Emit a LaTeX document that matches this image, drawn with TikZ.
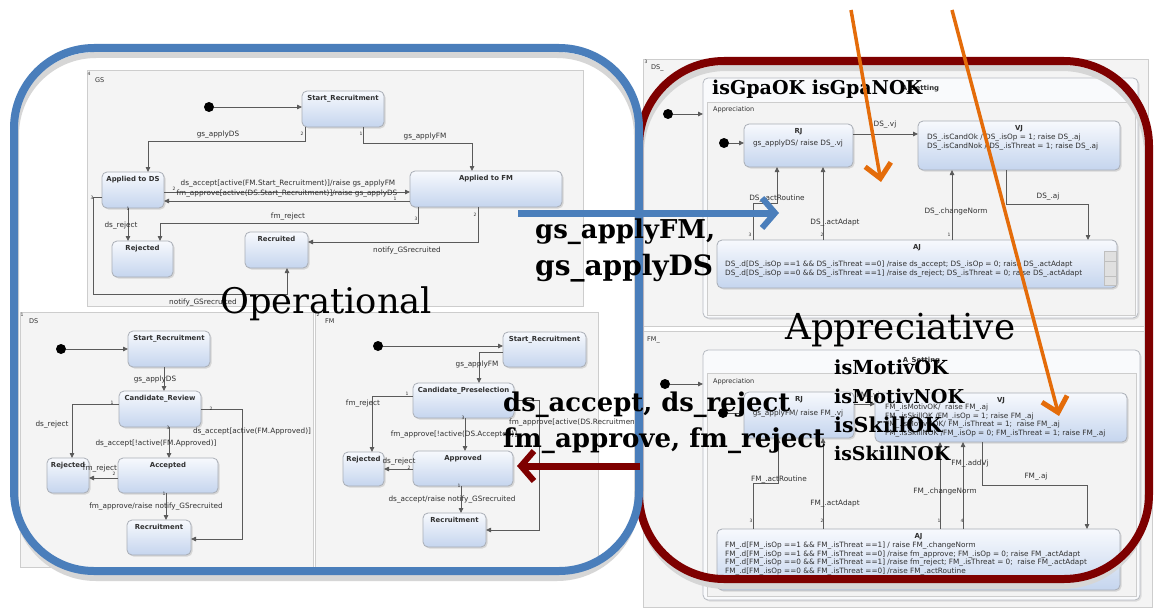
\documentclass[tikz,border=0pt]{standalone}
\usepackage{fontspec}
\setmainfont{DejaVu Sans}
\newfontfamily\bigserif{DejaVu Serif}
\usetikzlibrary{arrows.meta,shadows}

\definecolor{panelfill}{HTML}{F4F4F4}
\definecolor{paneldraw}{HTML}{CDCDCD}
\definecolor{statetop}{HTML}{F7F9FD}
\definecolor{statebot}{HTML}{C5D5EE}
\definecolor{statedraw}{HTML}{A9AEB6}
\definecolor{wire}{HTML}{5A5A5A}
\definecolor{opblue}{HTML}{4A7EBB}
\definecolor{apred}{HTML}{7E0000}
\definecolor{hintorange}{HTML}{E46C0A}
\definecolor{regionfill}{HTML}{F3F3F3}
\definecolor{setfill}{HTML}{F9FAFC}
\definecolor{txt}{HTML}{303030}

\tikzset{
  box/.style n args={2}{minimum width=#1pt, minimum height=#2pt},
  panel/.style={draw=paneldraw, fill=panelfill, line width=0.8pt, inner sep=0pt, outer sep=0pt, anchor=north west},
  setbox/.style={draw=statedraw!85, fill=setfill, rounded corners=5pt, line width=0.8pt, inner sep=0pt, outer sep=0pt, anchor=north west,
    drop shadow={shadow xshift=1.5pt, shadow yshift=-1.5pt, opacity=0.2}},
  region/.style={draw=paneldraw, fill=regionfill, line width=0.7pt, inner sep=0pt, outer sep=0pt, anchor=north west},
  state/.style={draw=statedraw, top color=statetop, bottom color=statebot, rounded corners=5pt, line width=0.8pt,
    inner sep=0pt, outer sep=0pt, anchor=north west,
    drop shadow={shadow xshift=1.5pt, shadow yshift=-1.5pt, opacity=0.25}},
  ttl/.style={font=\bfseries\fontsize{6.9}{7.5}\selectfont, anchor=north, inner sep=0pt, yshift=-4pt, text=txt},
  lbl/.style={font=\fontsize{7.3}{8.5}\selectfont, inner sep=0pt, text=txt},
  code/.style={font=\fontsize{7.3}{8.5}\selectfont, inner sep=0pt, text=txt, anchor=west},
  num/.style={font=\fontsize{4.5}{5}\selectfont, inner sep=0pt, text=txt},
  tr/.style={draw=wire, line width=0.8pt, -{Triangle[length=5pt,width=4.5pt]}},
  init/.style={circle, fill=black, minimum size=10pt, inner sep=0pt, outer sep=0pt},
  big/.style={font=\bigserif, inner sep=0pt, anchor=base west},
  bigb/.style={font=\bigserif\bfseries, inner sep=0pt, anchor=base west},
  bigarrow/.style={draw=#1, line width=7pt, -{Straight Barb[length=13pt,width=30pt,line width=6pt]}},
  hint/.style={draw=hintorange, line width=3.5pt, -{Straight Barb[length=14pt,width=26pt,line width=5pt]}},
  frameshadow/.style={draw=black!16, line width=6pt},
}

\begin{document}
\begin{tikzpicture}[x=1pt,y=-1pt]
\useasboundingbox (0,0) rectangle (1155,610);
\fill[white] (0,0) rectangle (1155,610);

% ---------------- operational panels ----------------
\node[panel, box={496}{236}] (gsPanel) at (87,70) {};
\node[panel, box={293}{255}] (dsPanel) at (20,312) {};
\node[panel, box={283}{255}] (fmPanel) at (315,312) {};

\node[num] (gsNo) at (89,74) {4};
\node[lbl, anchor=west, font=\fontsize{6.5}{7}\selectfont] (gsName) at (95,80) {GS};
\node[num] (dsNo) at (22,315) {1};
\node[lbl, anchor=west, font=\fontsize{6.5}{7}\selectfont] (dsName) at (29,321) {DS};
\node[num] (fmNo) at (318,315) {2};
\node[lbl, anchor=west, font=\fontsize{6.5}{7}\selectfont] (fmName) at (325,321) {FM};

% GS states
\node[state, box={82}{36}, label={[ttl]north:Start\_Recruitment}] (gsStart) at (302,91) {};
\node[state, box={62}{36}, label={[ttl]north:Applied to DS}] (gsDS) at (102,172) {};
\node[state, box={152}{36}, label={[ttl]north:Applied to FM}] (gsFM) at (410,171) {};
\node[state, box={61}{36}, label={[ttl]north:Rejected}] (gsRej) at (112,241) {};
\node[state, box={63}{36}, label={[ttl]north:Recruited}] (gsRec) at (245,232) {};
\node[init] (gsInit) at (209,107) {};

\draw[tr] (gsInit.east) -- (gsInit.east -| gsStart.west);
\draw[tr] ([xshift=3pt]gsStart.south west) -- ++(0,14) -| ([xshift=15pt]gsDS.north);
\draw[tr] ([xshift=-21pt]gsStart.south east) -- ++(0,16) -| ([xshift=-14pt]gsFM.north);
\draw[tr] ([yshift=-2pt]gsDS.east) -- ([yshift=-2pt]gsDS.east -| gsFM.west);
\draw[tr] ([yshift=-12pt]gsFM.west) -- ([yshift=-12pt]gsFM.west -| gsDS.east);
\draw[tr] ([xshift=-5pt]gsDS.south) -- ([xshift=-5pt]gsDS.south |- gsRej.north);
\draw[tr] ([xshift=8pt]gsFM.south west) -- ++(0,16) -| ([xshift=17.5pt]gsRej.north);
\draw[tr] ([xshift=-8pt]gsFM.south) |- ([yshift=8pt]gsRec.east);
\draw[tr] ([yshift=-7pt]gsDS.west) -- ++(-9,0) -- ++(0,97) -| ([xshift=10.5pt]gsRec.south);

\node[lbl] (gsL1) at (218,135) {gs\_applyDS};
\node[lbl] (gsL2) at (425,137) {gs\_applyFM};
\node[lbl] (gsL3) at (288,184) {ds\_accept[active(FM.Start\_Recruitment)]/raise gs\_applyFM};
\node[lbl] (gsL4) at (287,194) {fm\_approve[active(DS.Start\_Recruitment)]/raise gs\_applyDS};
\node[lbl] (gsL5) at (121,226) {ds\_reject};
\node[lbl] (gsL6) at (288,217) {fm\_reject};
\node[lbl] (gsL7) at (407,251) {notify\_GSrecruited};
\node[lbl] (gsL8) at (203,303) {notify\_GSrecruited};
\node[num] (gsN1) at (302,134) {2};
\node[num] (gsN2) at (361,134) {1};
\node[num] (gsN3) at (174,189) {2};
\node[num] (gsN4) at (395,199) {1};
\node[num] (gsN5) at (128,209) {1};
\node[num] (gsN6) at (416,219) {3};
\node[num] (gsN7) at (475,215) {2};
\node[num] (gsN8) at (92,198) {3};

% DS states
\node[state, box={82}{36}, label={[ttl]north:Start\_Recruitment}] (dsStart) at (128,331) {};
\node[state, box={82}{36}, label={[ttl]north:Candidate\_Review}] (dsCR) at (119,391) {};
\node[state, box={42}{35}, label={[ttl]north:Rejected}] (dsRej) at (47,458) {};
\node[state, box={100}{35}, label={[ttl]north:Accepted}] (dsAcc) at (118,458) {};
\node[state, box={64}{35}, label={[ttl]north:Recruitment}] (dsRec) at (127,520) {};
\node[init] (dsInit) at (61,349) {};

\draw[tr] (dsInit.east) -- (dsInit.east -| dsStart.west);
\draw[tr] ([xshift=-5pt]dsStart.south) -- ([xshift=-5pt]dsStart.south |- dsCR.north);
\draw[tr] ([yshift=5pt]dsCR.west) -| ([xshift=4pt]dsRej.north);
\draw[tr] (dsCR.east) -- ++(41,0) |- ([yshift=-1.5pt]dsRec.east);
\draw[tr] ([xshift=9pt]dsCR.south) -- ([xshift=9pt]dsCR.south |- dsAcc.north);
\draw[tr] ([yshift=-2.5pt]dsAcc.west) -- ([yshift=-2.5pt]dsAcc.west -| dsRej.east);
\draw[tr] ([xshift=-2pt]dsAcc.south) -- ([xshift=-2pt]dsAcc.south |- dsRec.north);

\node[lbl] (dsL1) at (155,380) {gs\_applyDS};
\node[lbl] (dsL2) at (52,425) {ds\_reject};
\node[lbl] (dsL3) at (252,432) {ds\_accept[active(FM.Approved)]};
\node[lbl] (dsL4) at (156,444) {ds\_accept[!active(FM.Approved)]};
\node[lbl] (dsL5) at (100,469) {fm\_reject};
\node[lbl] (dsL6) at (156,507) {fm\_approve/raise notify\_GSrecruited};
\node[num] (dsN1) at (112,403) {1};
\node[num] (dsN2) at (211,409) {2};
\node[num] (dsN3) at (168,428) {3};
\node[num] (dsN4) at (114,474) {2};
\node[num] (dsN5) at (164,494) {1};

% FM states
\node[state, box={83}{35}, label={[ttl]north:Start\_Recruitment}] (fmStart) at (503,332) {};
\node[state, box={101}{35}, label={[ttl]north:Candidate\_Preselection}] (fmCP) at (413,383) {};
\node[state, box={41}{34}, label={[ttl]north:Rejected}] (fmRej) at (343,452) {};
\node[state, box={100}{35}, label={[ttl]north:Approved}] (fmApp) at (413,451) {};
\node[state, box={63}{34}, label={[ttl]north:Recruitment}] (fmRec) at (423,513) {};
\node[init] (fmInit) at (378,346) {};

\draw[tr] (fmInit.east) -- (fmInit.east -| fmStart.west);
\draw[tr] ([yshift=-2.5pt]fmStart.west) -| ([xshift=15.5pt]fmCP.north);
\draw[tr] ([yshift=4.5pt]fmCP.west) -| ([xshift=8.5pt]fmRej.north);
\draw[tr] ([xshift=1.5pt]fmCP.south) -- ([xshift=1.5pt]fmCP.south |- fmApp.north);
\draw[tr] ([yshift=-0.5pt]fmApp.west) -- ([yshift=-0.5pt]fmApp.west -| fmRej.east);
\draw[tr] ([xshift=-2pt]fmApp.south) -- ([xshift=-2pt]fmApp.south |- fmRec.north);
\draw[tr] (fmCP.east) -- ++(25,0) |- (fmRec.east);

\node[lbl] (fmL1) at (477,365) {gs\_applyFM};
\node[lbl] (fmL2) at (363,404) {fm\_reject};
\node[lbl] (fmL3) at (454,435) {fm\_approve[!active(DS.Accepted)]};
\node[lbl, anchor=west] (fmL4) at (509,423) {fm\_approve[active(DS.Recruitment)]};
\node[lbl] (fmL5) at (399,462) {ds\_reject};
\node[lbl] (fmL6) at (452,500) {ds\_accept/raise notify\_GSrecruited};
\node[num] (fmN1) at (407,394) {1};
\node[num] (fmN2) at (463,418) {3};
\node[num] (fmN3) at (409,468) {2};
\node[num] (fmN4) at (459,486) {1};

% ---------------- appreciative panels ----------------
\node[panel, box={505}{267}] (dsaPanel) at (643,59) {};
\node[panel, box={509}{276}] (fmaPanel) at (643,331) {};
\node[num] (dsaNo) at (646,62) {3};
\node[lbl, anchor=west, font=\fontsize{6.5}{7}\selectfont] (dsaName) at (651,68) {DS\_};
\node[lbl, anchor=west, font=\fontsize{6.5}{7}\selectfont] (fmaName) at (647,340) {FM\_};

% DS_ machine
\node[setbox, box={435}{240}, label={[ttl, yshift=-3pt]north:A\_Setting}] (dsASet) at (703,78) {};
\node[region, box={428}{213}] (dsAppr) at (707,102) {};
\node[lbl, anchor=west, font=\fontsize{6.5}{7}\selectfont] (dsApprName) at (713,110) {Appreciation};
\node[state, box={109}{43}, label={[ttl]north:RJ}] (dsRJ) at (744,124) {};
\node[state, box={202}{49}, label={[ttl]north:VJ}] (dsVJ) at (918,121) {};
\node[state, box={400}{48}, label={[ttl]north:AJ}] (dsAJ) at (717,240) {};
\node[init] (dsInitO) at (668,114) {};
\node[init] (dsInitI) at (724,143) {};

\node[lbl] (dsRJt) at (798,144) {gs\_applyDS/ raise DS\_.vj};
\node[code] (dsVJa) at (927,138) {DS\_.isCandOk / DS\_.isOp = 1; raise DS\_.aj};
\node[code] (dsVJb) at (927,147) {DS\_.isCandNok / DS\_.isThreat = 1; raise DS\_.aj};
\node[code] (dsAJa) at (725,265) {DS\_.d[DS\_.isOp ==1 \&\& DS\_.isThreat ==0] /raise ds\_accept; DS\_.isOp = 0; raise DS\_.actAdapt};
\node[code] (dsAJb) at (725,274) {DS\_.d[DS\_.isOp ==0 \&\& DS\_.isThreat ==1] /raise ds\_reject; DS\_.isThreat = 0; raise DS\_.actAdapt};
\draw[draw=black!25, fill=black!12] (1104,251) rectangle (1116,285);
\draw[black!25] (1104,261) -- (1116,261) (1104,276) -- (1116,276);

\draw[tr] (dsInitO.east) -- (dsInitO.east -| dsASet.west);
\draw[tr] (dsInitI.east) -- (dsInitI.east -| dsRJ.west);
\draw[tr] ([yshift=11.5pt]dsRJ.east) -- ([yshift=11.5pt]dsRJ.east -| dsVJ.west);
\draw[tr] ([xshift=-164pt]dsAJ.north) -- ++(0,-37) -| ([xshift=-21.5pt]dsRJ.south);
\draw[tr] ([xshift=-94pt]dsAJ.north) -- ([xshift=-94pt]dsAJ.north |- dsRJ.south);
\draw[tr] ([xshift=35pt]dsAJ.north) -- ([xshift=35pt]dsAJ.north |- dsVJ.south);
\draw[tr] ([xshift=-13pt]dsVJ.south) -- ++(0,34) -| ([xshift=171pt]dsAJ.north);

\node[lbl] (dsaL1) at (885,125) {DS\_.vj};
\node[lbl] (dsaL2) at (777,199) {DS\_.actRoutine};
\node[lbl] (dsaL3) at (835,223) {DS\_.actAdapt};
\node[lbl] (dsaL4) at (956,212) {DS\_.changeNorm};
\node[lbl] (dsaL5) at (1048,197) {DS\_.aj};
\node[num] (dsaN1) at (750,235) {3};
\node[num] (dsaN2) at (822,235) {2};
\node[num] (dsaN3) at (949,235) {1};

% FM_ machine
\node[setbox, box={437}{250}, label={[ttl, yshift=-3pt]north:A\_Setting}] (fmASet) at (703,350) {};
\node[region, box={429}{223}] (fmAppr) at (707,373) {};
\node[lbl, anchor=west, font=\fontsize{6.5}{7}\selectfont] (fmApprName) at (713,382) {Appreciation};
\node[state, box={110}{46}, label={[ttl]north:RJ}] (fmRJ) at (744,392) {};
\node[state, box={252}{49}, label={[ttl]north:VJ}] (fmVJ) at (875,393) {};
\node[state, box={403}{61}, label={[ttl]north:AJ}] (fmAJ) at (717,529) {};
\node[init] (fmInitO) at (665,384) {};
\node[init] (fmInitI) at (723,413) {};

\node[lbl] (fmRJt) at (798,414) {gs\_applyFM/ raise FM\_.vj};
\node[code] (fmVJa) at (885,408) {FM\_.isMotivOK/~ raise FM\_.aj};
\node[code] (fmVJb) at (885,417) {FM\_.isSkillOK /FM\_.isOp = 1; raise FM\_.aj};
\node[code] (fmVJc) at (885,425) {FM\_.isMotivNOK/ FM\_.isThreat = 1;~ raise FM\_.aj};
\node[code] (fmVJd) at (885,434) {FM\_.isSkillNOK /FM\_.isOp = 0; FM\_.isThreat = 1; raise FM\_.aj};
\node[code] (fmAJa) at (725,546) {FM\_.d[FM\_.isOp ==1 \&\& FM\_.isThreat ==1] / raise FM\_.changeNorm};
\node[code] (fmAJb) at (725,554.5) {FM\_.d[FM\_.isOp ==1 \&\& FM\_.isThreat ==0] /raise fm\_approve; FM\_.isOp = 0; raise FM\_.actAdapt};
\node[code] (fmAJc) at (725,563) {FM\_.d[FM\_.isOp ==0 \&\& FM\_.isThreat ==1] /raise fm\_reject; FM\_.isThreat = 0;~ raise FM\_.actAdapt};
\node[code] (fmAJd) at (725,571.5) {FM\_.d[FM\_.isOp ==0 \&\& FM\_.isThreat ==0] /raise FM\_.actRoutine};

\draw[tr] (fmInitO.east) -- (fmInitO.east -| fmASet.west);
\draw[tr] (fmInitI.east) -- (fmInitI.east -| fmRJ.west);
\draw[tr] ([yshift=11pt]fmRJ.east) -- ([yshift=11pt]fmRJ.east -| fmVJ.west);
\draw[tr] ([xshift=-165.5pt]fmAJ.north) -- ++(0,-46) -| ([xshift=-21pt]fmRJ.south);
\draw[tr] ([xshift=-95.5pt]fmAJ.north) -- ([xshift=-95.5pt]fmAJ.north |- fmRJ.south);
\draw[tr] ([xshift=21.5pt]fmAJ.north) -- ([xshift=21.5pt]fmAJ.north |- fmVJ.south);
\draw[tr] ([xshift=44.5pt]fmAJ.north) -- ([xshift=44.5pt]fmAJ.north |- fmVJ.south);
\draw[tr] ([xshift=-19pt]fmVJ.south) -- ++(0,43) -| ([xshift=168.5pt]fmAJ.north);

\node[lbl] (fmaL1) at (868,396) {FM\_.vj};
\node[lbl] (fmaL2) at (779,480) {FM\_.actRoutine};
\node[lbl] (fmaL3) at (835,504) {FM\_.actAdapt};
\node[lbl] (fmaL4) at (945,492) {FM\_.changeNorm};
\node[lbl] (fmaL5) at (970,464) {FM\_.addVj};
\node[lbl] (fmaL6) at (1036,477) {FM\_.aj};
\node[num] (fmaN1) at (751,521) {3};
\node[num] (fmaN2) at (822,521) {2};
\node[num] (fmaN3) at (939,521) {1};
\node[num] (fmaN4) at (962,521) {4};

% ---------------- frames (red first, blue drawn over its left side) ----------------
\draw[frameshadow, rounded corners=85pt] (641,68) rectangle (1147,586);
\draw[apred, line width=8pt, rounded corners=85pt] (639,61) rectangle (1149,579);
\draw[frameshadow, rounded corners=80pt] (16,55) rectangle (637,578);
\draw[opblue, line width=8pt, rounded corners=80pt] (14,48) rectangle (639,571);

% ---------------- event arrows ----------------
\coordinate (blueTail) at (518,213);
\coordinate (blueHead) at (779,213);
\draw[bigarrow=opblue] (blueTail) -- (blueHead);
\coordinate (redTail) at (640,466);
\coordinate (redHead) at (517,466);
\draw[bigarrow=apred] (redTail) -- (redHead);

% ---------------- captions ----------------
\node[big] (capOp) at (220,313) {\resizebox{212pt}{!}{Operational}};
\node[big] (capAp) at (785,339) {\resizebox{230pt}{!}{Appreciative}};
\node[bigb] (evA) at (535,238) {\resizebox{180pt}{!}{gs\_applyFM,}};
\node[bigb] (evB) at (535,275) {\resizebox{178pt}{!}{gs\_applyDS}};
\node[bigb] (evC) at (503,411) {\resizebox{287pt}{!}{ds\_accept, ds\_reject}};
\node[bigb] (evD) at (503,447) {\resizebox{322pt}{!}{fm\_approve, fm\_reject}};
\node[bigb] (gpa) at (712,94) {\resizebox{210pt}{!}{isGpaOK isGpaNOK}};
\node[bigb] (mo1) at (834,374) {\resizebox{114pt}{!}{isMotivOK}};
\node[bigb] (mo2) at (834,403) {\resizebox{130pt}{!}{isMotivNOK}};
\node[bigb] (sk1) at (834,432) {\resizebox{108pt}{!}{isSkillOK}};
\node[bigb] (sk2) at (834,460) {\resizebox{116pt}{!}{isSkillNOK}};

% ---------------- hints ----------------
\coordinate (hintATail) at (851,10);
\coordinate (hintAHead) at (881,182);
\draw[hint] (hintATail) -- (hintAHead);
\coordinate (hintBTail) at (952,10);
\coordinate (hintBHead) at (1059,416);
\draw[hint] (hintBTail) -- (hintBHead);
\end{tikzpicture}
\end{document}
